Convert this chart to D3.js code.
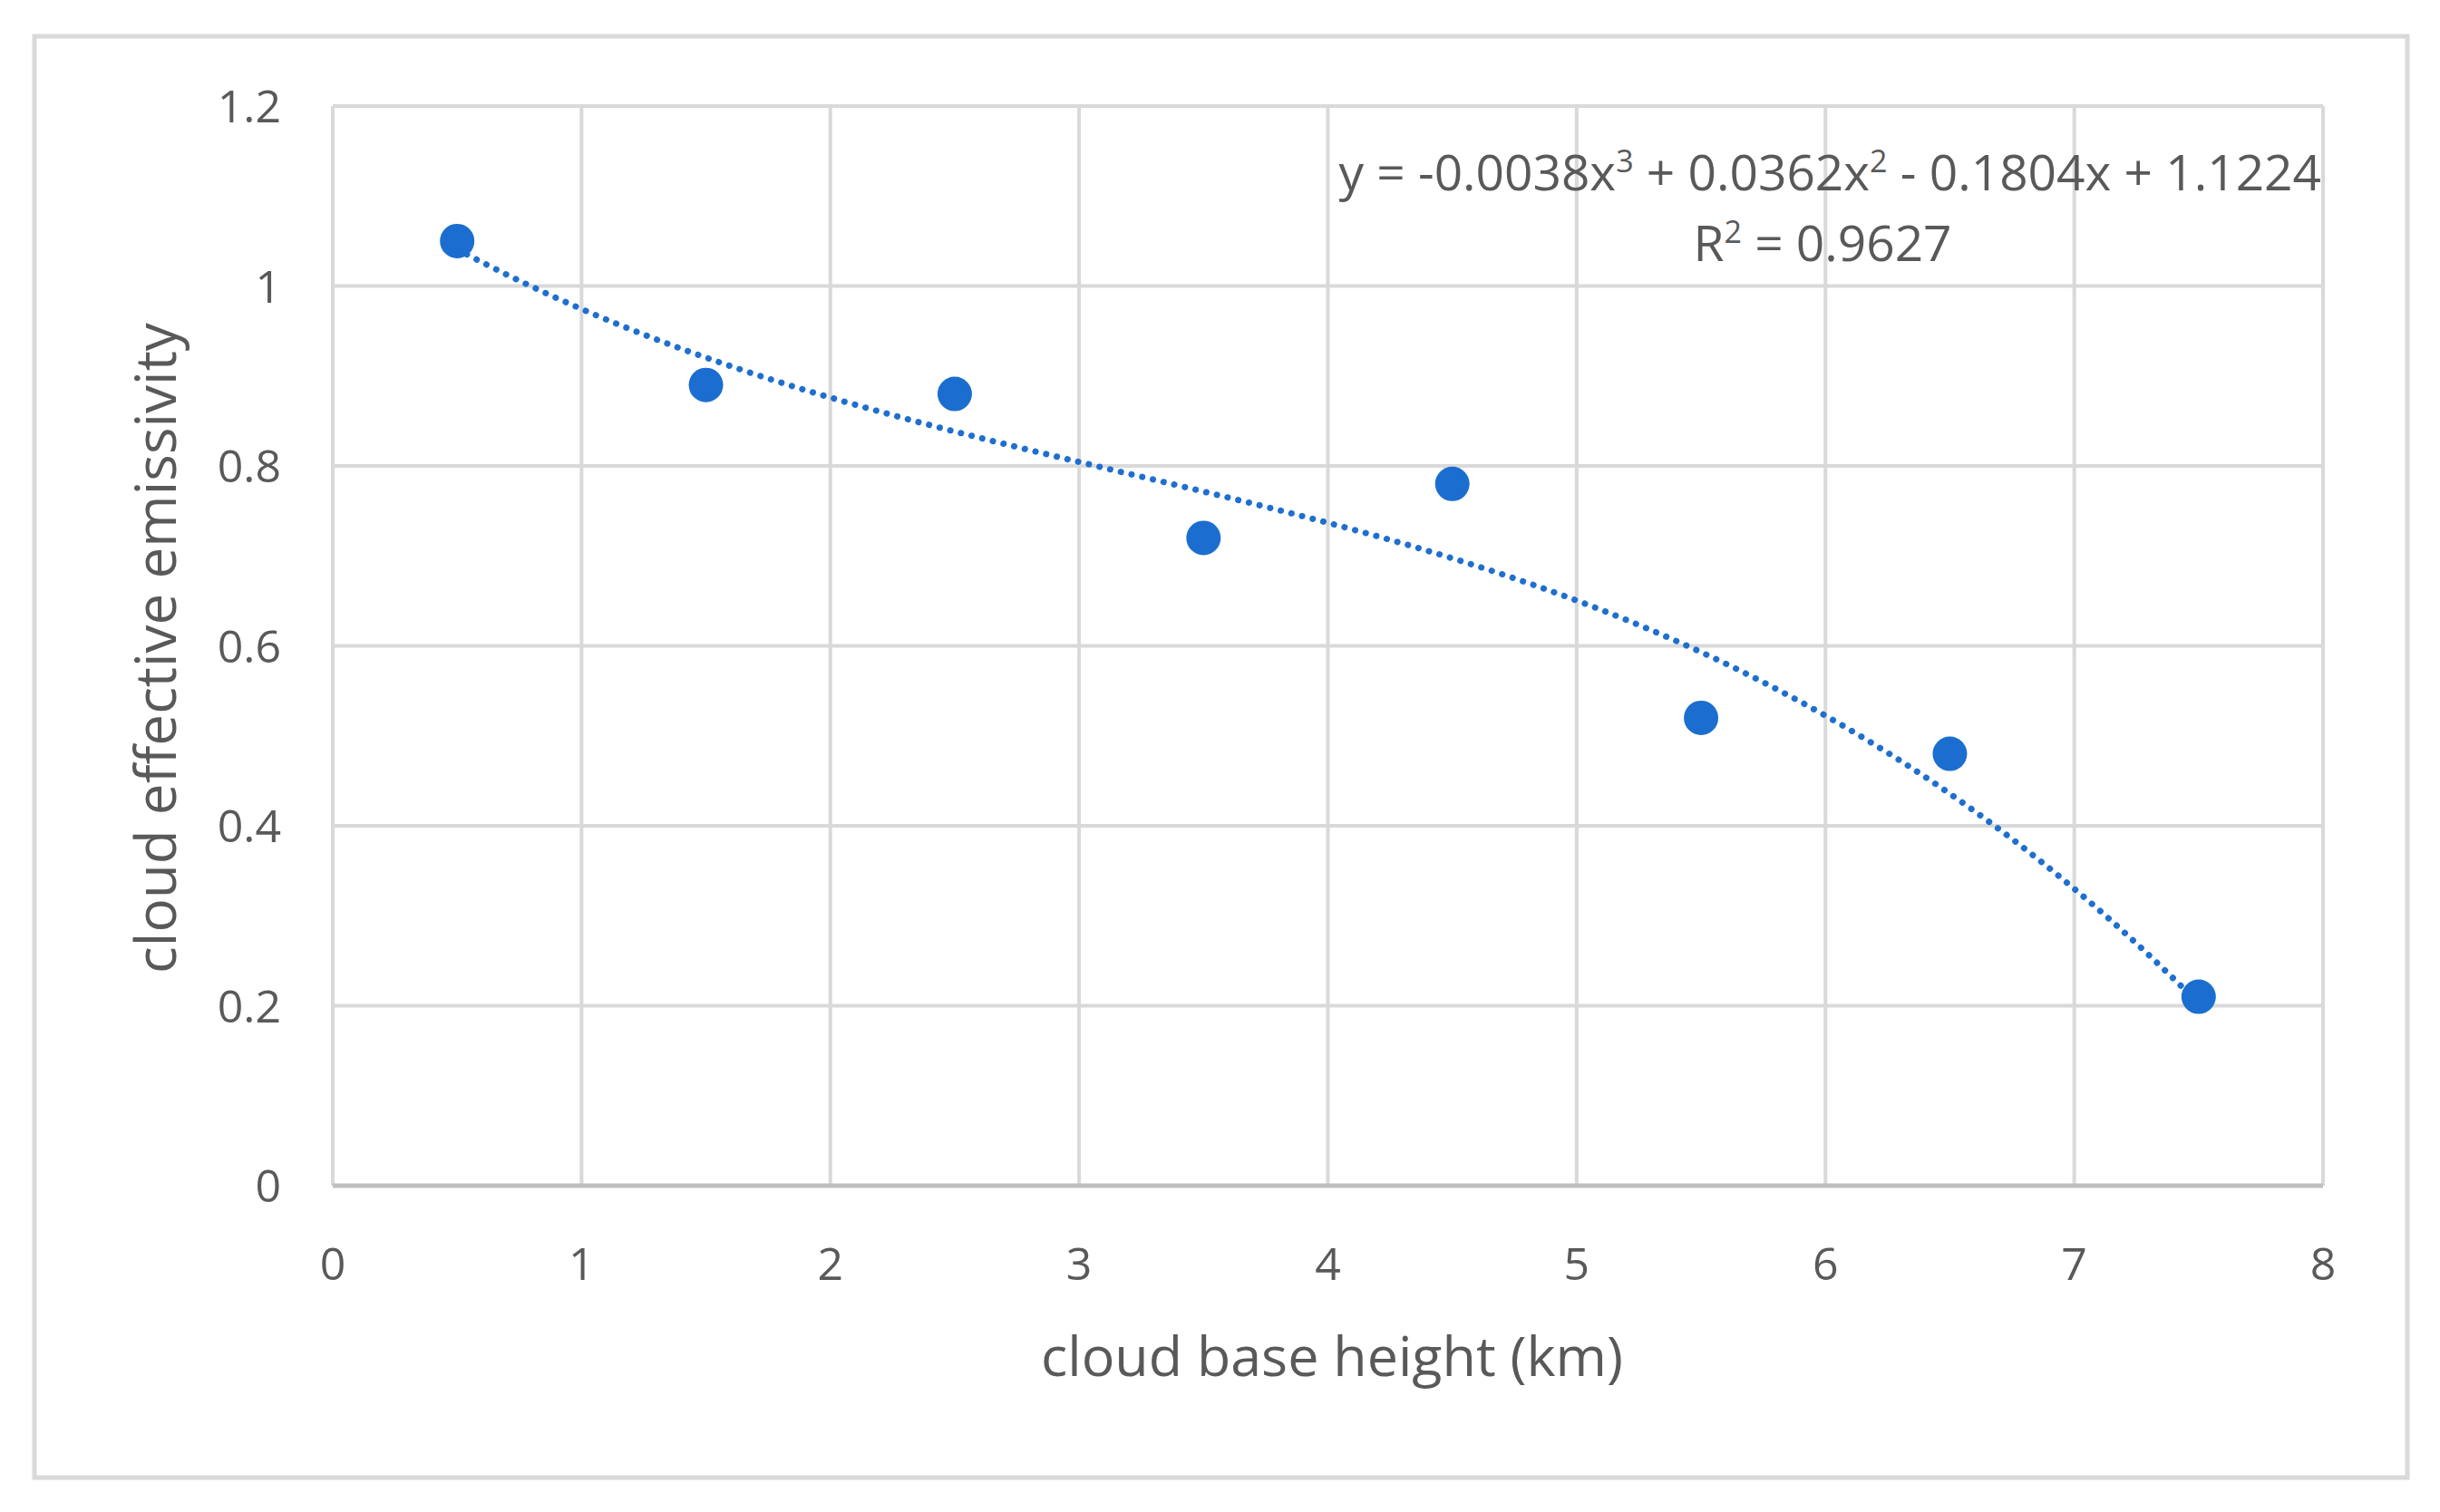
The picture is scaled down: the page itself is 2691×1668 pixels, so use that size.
<!DOCTYPE html><html><head><meta charset="utf-8">
<script src="https://cdn.jsdelivr.net/npm/d3@7"></script>
<style>body{margin:0;background:#fff}</style></head><body><svg id="c" width="2691" height="1668"></svg>
<script>
const xs=[0.5,1.5,2.5,3.5,4.5,5.5,6.5,7.5];
const ys=[1.05,0.89,0.88,0.72,0.78,0.52,0.48,0.21];
const coef=[1.1224,-0.1804,0.0362,-0.0038];
const xTicks=[0,1,2,3,4,5,6,7,8];
const yTicks=[0,0.2,0.4,0.6,0.8,1,1.2];
const svg=d3.select("#c");
const F="'Open Sans', 'Noto Sans', sans-serif", G="#595959";
svg.append("rect").attr("x",38).attr("y",40).attr("width",2617).attr("height",1590).attr("fill","#fff").attr("stroke","#d9d9d9").attr("stroke-width",5);
const x=d3.scaleLinear().domain([0,8]).range([367,2562]);
const y=d3.scaleLinear().domain([0,1.2]).range([1308,117]);
const g=svg.append("g");
g.selectAll(".v").data(xTicks).join("line").attr("x1",d=>x(d)).attr("x2",d=>x(d)).attr("y1",y(0)).attr("y2",y(1.2)).attr("stroke","#d9d9d9").attr("stroke-width",4);
g.selectAll(".h").data(yTicks).join("line").attr("x1",x(0)).attr("x2",x(8)).attr("y1",d=>y(d)).attr("y2",d=>y(d)).attr("stroke","#d9d9d9").attr("stroke-width",4);
g.append("line").attr("x1",x(0)).attr("x2",x(8)).attr("y1",y(0)).attr("y2",y(0)).attr("stroke","#bfbfbf").attr("stroke-width",5);
g.selectAll(".xt").data(xTicks).join("text").attr("x",d=>x(d)).attr("y",1412).attr("text-anchor","middle").attr("font-family",F).attr("font-size",50).attr("fill",G).text(d=>d);
g.selectAll(".yt").data(yTicks).join("text").attr("x",310).attr("y",d=>y(d)+18).attr("text-anchor","end").attr("font-family",F).attr("font-size",50).attr("fill",G).text(d=>d);
const poly=t=>coef[0]+coef[1]*t+coef[2]*t*t+coef[3]*t*t*t;
const pts=d3.range(0.5,7.5001,0.05).map(t=>[t,poly(t)]);
g.append("path").attr("d",d3.line().x(d=>x(d[0])).y(d=>y(d[1]))(pts)).attr("fill","none").attr("stroke","#1f6fcf").attr("stroke-width",7).attr("stroke-dasharray","0.1 12").attr("stroke-linecap","round");
g.selectAll(".p").data(xs).join("circle").attr("cx",d=>x(d)).attr("cy",(d,i)=>y(ys[i])).attr("r",19).attr("fill","#1b6ecf");
const eq=g.append("text").attr("x",2560).attr("y",210).attr("text-anchor","end").attr("font-family",F).attr("font-size",55).attr("fill",G);
eq.append("tspan").text("y = -0.0038x");eq.append("tspan").attr("font-size",34).attr("dy",-20).text("3");
eq.append("tspan").attr("dy",20).text(" + 0.0362x");eq.append("tspan").attr("font-size",34).attr("dy",-20).text("2");
eq.append("tspan").attr("dy",20).text(" - 0.1804x + 1.1224");
const r2=g.append("text").attr("x",2010).attr("y",288).attr("text-anchor","middle").attr("font-family",F).attr("font-size",55).attr("fill",G);
r2.append("tspan").text("R");r2.append("tspan").attr("font-size",34).attr("dy",-20).text("2");r2.append("tspan").attr("dy",20).text(" = 0.9627");
g.append("text").attr("x",1469).attr("y",1518).attr("text-anchor","middle").attr("font-family",F).attr("font-size",61).attr("fill",G).text("cloud base height (km)");
g.append("text").attr("transform","translate(194,715) rotate(-90)").attr("text-anchor","middle").attr("font-family",F).attr("font-size",62).attr("fill",G).text("cloud effective emissivity");
</script></body></html>
